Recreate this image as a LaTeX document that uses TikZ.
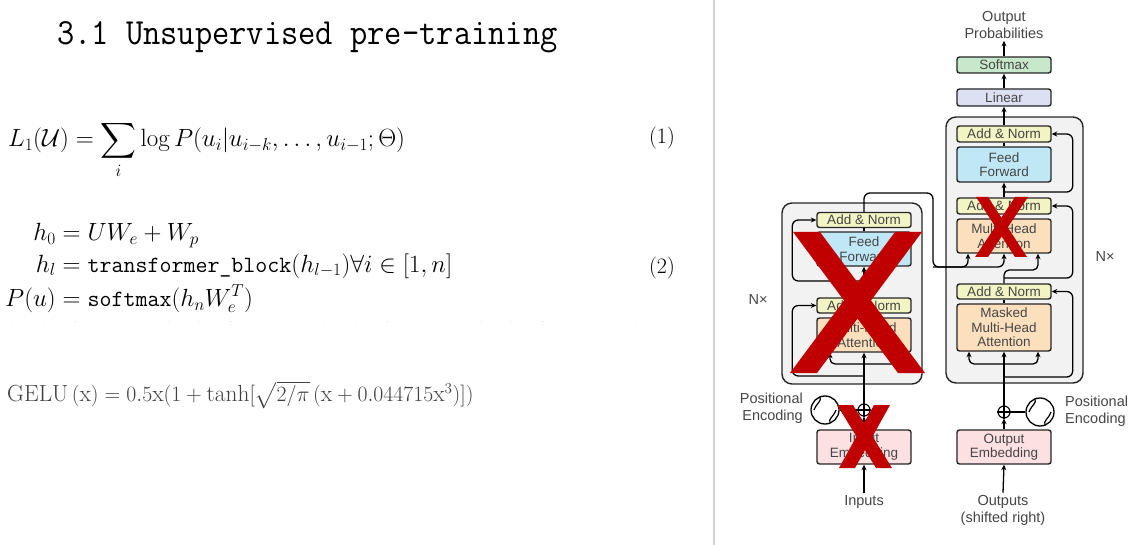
\documentclass[tikz,border=0pt]{standalone}
\usepackage{amsmath}
\usepackage{fontspec}
\newfontfamily\dsans{Liberation Sans}
\usetikzlibrary{arrows.meta,calc}
\definecolor{cAN}{RGB}{243,244,196}
\definecolor{cFF}{RGB}{192,231,246}
\definecolor{cMHA}{RGB}{252,224,190}
\definecolor{cEMB}{RGB}{252,224,226}
\definecolor{cLIN}{RGB}{221,224,243}
\definecolor{cSM}{RGB}{200,232,203}
\definecolor{cBG}{RGB}{242,242,242}
\definecolor{cRed}{RGB}{192,0,0}
\definecolor{cTxt}{RGB}{70,70,70}
\tikzset{
  blk/.style={draw=black!85, line width=1.4pt, rounded corners=2.5pt, minimum width=94pt,
    inner sep=0pt, align=center, font=\dsans\fontsize{13.5}{14.5}\selectfont, text=cTxt},
  an/.style={blk, fill=cAN, minimum height=16pt},
  ffb/.style={blk, fill=cFF, minimum height=35pt},
  mha/.style={blk, fill=cMHA, minimum height=34pt},
  emb/.style={blk, fill=cEMB, minimum height=34pt},
  stackbox/.style={draw=black!85, line width=1.4pt, fill=cBG, rounded corners=10pt, inner sep=0pt},
  arr/.style={-{Stealth[length=5.5pt,width=5pt]}, line width=1.3pt},
  ln/.style={line width=1.3pt},
  lbl/.style={font=\dsans\fontsize{14.5}{17}\selectfont, text=cTxt, inner sep=2pt},
  plusnode/.style={circle, draw, line width=1.1pt, minimum size=12pt, inner sep=0pt, fill=white},
  pecircle/.style={circle, draw, line width=1.3pt, minimum size=28pt, inner sep=0pt},
  redx/.style={fill=cRed, draw=none},
}
\begin{document}
\begin{tikzpicture}[x=1pt,y=-1pt]
\useasboundingbox[fill=white] (0,0) rectangle (1143,545);

% ---------- left text ----------
\node[anchor=west, inner sep=0pt, font=\fontsize{33.5}{33}\selectfont\ttfamily, yscale=1.1] (title) at (57,37) {3.1 Unsupervised pre-training};

\node[anchor=base west, inner sep=0pt, font=\fontsize{25}{29}\selectfont] (eqA) at (8,147)
  {$\displaystyle L_1(\mathcal{U}) = \sum_i \log P(u_i|u_{i-k},\ldots,u_{i-1};\Theta)$};
\node[inner sep=0pt, font=\fontsize{22}{26}\selectfont] (eqAn) at (662,138) {(1)};

\node[anchor=west, inner sep=0pt, font=\fontsize{23.3}{28.5}\selectfont] (eqB) at (5,268)
  {$\begin{aligned}
    h_0 &= UW_e + W_p\\
    h_l &= \texttt{transformer\_block}(h_{l-1})\forall i\in[1,n]\\
    P(u) &= \texttt{softmax}(h_nW_e^T)
  \end{aligned}$};
\node[inner sep=0pt, font=\fontsize{22}{26}\selectfont] (eqBn) at (662,268) {(2)};

\draw[gray!14, line width=0.7pt, dash pattern=on 1.2pt off 30pt] (12,321) -- (650,321);

\begin{scope}[shift={(7,395)}, scale=1.05]
\node[transform shape, anchor=west, inner sep=0pt, text=black!75, font=\fontsize{22.2}{26}\selectfont] (gelu) at (0,0)
  {$\mathrm{GELU}\,(\mathrm{x}) = 0.5\mathrm{x}(1+\tanh[\sqrt{2/\pi}\,(\mathrm{x}+0.044715\mathrm{x}^3)])$};
\end{scope}

% separator
\draw[line width=1.6pt, black!18] (714,0) -- (714,545);

% ---------- stacks ----------
\node[stackbox, minimum width=140pt, minimum height=181pt] (encStack) at (852,293.5) {};
\node[stackbox, minimum width=137pt, minimum height=266pt] (decStack) at (1014.5,250) {};

% ---------- encoder ----------
\node[an, minimum height=15pt] (encAN2) at (864,220) {Add \& Norm};
\node[ffb, minimum height=34pt] (encFF) at (864,249) {Feed\\Forward};
\node[an, minimum height=15pt] (encAN1) at (864,305.5) {Add \& Norm};
\node[mha] (encMHA) at (864,335) {Multi-Head\\Attention};
\node[emb] (inEmb) at (864,447) {Input\\Embedding};
\node[plusnode] (plusE) at (864,410) {};
\node[pecircle] (peE) at (825,410) {};
\node[lbl, anchor=east, align=right] (peEt) at (805,408.5) {Positional\\Encoding};
\node[lbl] (inputs) at (864,502) {Inputs};
\node[lbl] (nxE) at (758,300) {N\texttimes};

% ---------- decoder ----------
\node[blk, fill=cSM, minimum height=16pt] (softmax) at (1004,65) {Softmax};
\node[blk, fill=cLIN, minimum height=17pt] (linear) at (1004,97.5) {Linear};
\node[an] (decAN3) at (1004,134) {Add \& Norm};
\node[ffb] (decFF) at (1004,164.5) {Feed\\Forward};
\node[an] (decAN2) at (1004,206) {Add \& Norm};
\node[mha] (decMHA) at (1004,236) {Multi-Head\\Attention};
\node[an, minimum height=15pt] (decAN1) at (1004,291.5) {Add \& Norm};
\node[mha, minimum height=47pt] (decMMHA) at (1004,327.5) {Masked\\Multi-Head\\Attention};
\node[emb] (outEmb) at (1004,447) {Output\\Embedding};
\node[plusnode] (plusD) at (1004,412) {};
\node[pecircle] (peD) at (1040,412) {};
\node[lbl, anchor=west, align=left] (peDt) at (1063,411.5) {Positional\\Encoding};
\node[lbl, align=center] (outputs) at (1003,510) {Outputs\\(shifted right)};
\node[lbl, align=center] (op) at (1004,25) {Output\\Probabilities};
\node[lbl] (nxD) at (1105,257) {N\texttimes};

% plus signs
\foreach \p in {plusE,plusD}{
  \draw[line width=1.1pt] (\p.north) -- (\p.south) (\p.west) -- (\p.east);
}
% sine waves
\foreach \c in {peE,peD}{
  \draw[line width=1.2pt] ($(\c)+(-11,0)$) .. controls ($(\c)+(-8,-8)$) and ($(\c)+(-3,-8)$) .. (\c)
     .. controls ($(\c)+(3,8)$) and ($(\c)+(8,8)$) .. ($(\c)+(11,0)$);
}
\draw[ln] (plusE.west) -- (peE.east);
\draw[ln] (plusD.east) -- (peD.west);

% ---------- encoder connectors ----------
\coordinate (eb1) at (864,364);
\coordinate (er1) at (864,376);
\coordinate (er2) at (864,281);
\draw[arr] (inputs.north) -- (inEmb.south);
\draw[arr] (inEmb.north) -- (plusE.south);
\draw[arr] (plusE.north) -- (encMHA.south);
\draw[arr, rounded corners=5pt] (eb1) -| ($(encMHA.south)+(-34,0)$);
\draw[arr, rounded corners=5pt] (eb1) -| ($(encMHA.south)+(35,0)$);
\draw[arr, rounded corners=6pt] (er1) -| ($(encAN1.west)+(-24,0)$) -- (encAN1.west);
\draw[ln] (encMHA.north) -- (encAN1.south);
\draw[arr] (encAN1.north) -- (encFF.south);
\draw[arr, rounded corners=6pt] (er2) -| ($(encAN2.west)+(-24,0)$) -- (encAN2.west);
\draw[ln] (encFF.north) -- (encAN2.south);

% encoder output into decoder
\coordinate (k1) at (864,193);
\coordinate (k2) at (933,193);
\coordinate (k3) at (933,267);
\draw[arr, rounded corners=6pt] (encAN2.north) -- (k1) -- (k2) -- (k3) -| ($(decMHA.south)+(-36,0)$);
\draw[arr, rounded corners=6pt] (k3) -| (decMHA.south);

% ---------- decoder connectors ----------
\coordinate (db1) at (1004,364);
\coordinate (dr1) at (1004,377);
\coordinate (dq) at (1004,270);
\coordinate (dr2) at (1004,278);
\coordinate (dr3) at (1004,192);
\draw[arr] (outputs.north) -- (outEmb.south);
\draw[arr] (outEmb.north) -- (plusD.south);
\draw[arr] (plusD.north) -- (decMMHA.south);
\draw[arr, rounded corners=5pt] (db1) -| ($(decMMHA.south)+(-35,0)$);
\draw[arr, rounded corners=5pt] (db1) -| ($(decMMHA.south)+(34,0)$);
\draw[arr, rounded corners=6pt] (dr1) -| ($(decAN1.east)+(21,0)$) -- (decAN1.east);
\draw[ln] (decMMHA.north) -- (decAN1.south);
\draw[arr, rounded corners=5pt] (decAN1.north) -- (dq) -| ($(decMHA.south)+(34,0)$);
\draw[arr, rounded corners=6pt] (dr2) -| ($(decAN2.east)+(21,0)$) -- (decAN2.east);
\draw[ln] (decMHA.north) -- (decAN2.south);
\draw[arr] (decAN2.north) -- (decFF.south);
\draw[arr, rounded corners=6pt] (dr3) -| ($(decAN3.east)+(21,0)$) -- (decAN3.east);
\draw[ln] (decFF.north) -- (decAN3.south);
\draw[arr] (decAN3.north) -- (linear.south);
\draw[arr] (linear.north) -- (softmax.south);
\draw[arr] (softmax.north) -- (op.south);

% ---------- red crosses ----------
\fill[redx] (793,232) -- (820,232) -- (925,373) -- (898,373) -- cycle;
\fill[redx] (895,232) -- (922,232) -- (817,373) -- (790,373) -- cycle;
\fill[redx] (976,197) -- (988,197) -- (1027,257) -- (1015,257) -- cycle;
\fill[redx] (1015,197) -- (1028,197) -- (988,257) -- (975,257) -- cycle;
\fill[redx] (837,405) -- (853,405) -- (892,468) -- (876,468) -- cycle;
\fill[redx] (874,405) -- (890,405) -- (855,468) -- (839,468) -- cycle;
\end{tikzpicture}
\end{document}
